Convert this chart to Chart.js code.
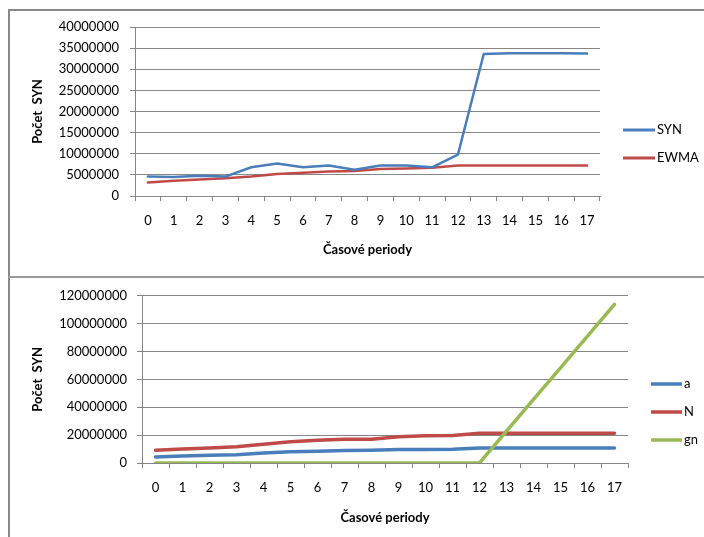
<!DOCTYPE html>
<html><head><meta charset="utf-8">
<script src="https://cdn.jsdelivr.net/npm/chart.js@4.4.0/dist/chart.umd.min.js"></script>
<style>
html,body{margin:0;padding:0;background:#fff;width:704px;height:537px;overflow:hidden;position:relative;}
#c1{position:absolute;left:0;top:0;}
#c2{position:absolute;left:0;top:278px;}
.b{position:absolute;background:#888;}
</style></head><body>
<canvas id="c1" width="704" height="276"></canvas>
<canvas id="c2" width="704" height="259"></canvas>
<div class="b" style="left:8px;top:9px;width:696px;height:2px"></div>
<div class="b" style="left:8px;top:9px;width:2px;height:528px"></div>
<div class="b" style="left:8px;top:276px;width:696px;height:2px;background:#999"></div>
<script>
// ---- data ----
const periods = ['0','1','2','3','4','5','6','7','8','9','10','11','12','13','14','15','16','17'];
const synValues  = [4600000,4500000,4800000,4600000,6800000,7700000,6800000,7200000,6200000,7200000,7200000,6800000,9800000,33600000,33800000,33800000,33800000,33700000];
const ewmaValues = [3200000,3600000,3900000,4200000,4600000,5200000,5500000,5800000,5900000,6400000,6500000,6700000,7200000,7200000,7200000,7200000,7200000,7200000];
const aValues  = [4300000,5100000,5500000,6000000,7200000,8000000,8400000,8900000,9200000,9600000,9600000,9900000,10800000,10800000,10800000,10800000,10800000,10800000];
const nValues  = [9200000,10100000,10800000,11600000,13500000,15200000,16400000,17100000,17100000,18800000,19500000,19800000,21400000,21400000,21400000,21400000,21400000,21400000];
const gnValues = [0,0,0,0,0,0,0,0,0,0,0,0,0,22800000,45600000,68300000,91100000,113900000];
const yTitle = 'Počet  SYN';
const xTitle = 'Časové periody';

const FONT = 'Lato';
const GRID = '#868686';

const sideLegend = {
  id: 'sideLegend',
  afterDraw(chart, args, opts) {
    const ctx = chart.ctx;
    ctx.save();
    chart.data.datasets.forEach((ds, i) => {
      const y = opts.y + i * opts.gap;
      ctx.strokeStyle = ds.borderColor;
      ctx.lineWidth = opts.lw;
      ctx.lineCap = 'butt';
      ctx.beginPath(); ctx.moveTo(opts.x, y); ctx.lineTo(opts.x + opts.len, y); ctx.stroke();
      ctx.fillStyle = '#000';
      ctx.font = '13px ' + FONT;
      ctx.textBaseline = 'middle';
      ctx.textAlign = 'left';
      ctx.fillText(ds.label, opts.x + opts.len + 2, y);
    });
    ctx.restore();
  }
};

function makeScales(o) {
  return {
    x: {
      offset: true,
      grid: { offset: true, drawOnChartArea: false, drawTicks: true, tickLength: 5, color: GRID },
      border: { color: GRID },
      ticks: { color: '#000', font: { family: FONT, size: 13 }, padding: o.xpad, maxRotation: 0, autoSkip: false },
      title: { display: true, text: xTitle, color: '#000', font: { family: FONT, size: 13, weight: 'bold' }, padding: { top: 0, bottom: o.xtp } },
      afterFit(s) { s.height = o.xh; }
    },
    y: {
      min: 0, max: o.max,
      ticks: { stepSize: o.step, color: '#000', font: { family: FONT, size: 13 }, padding: o.ypad, callback: v => String(v) },
      grid: { color: GRID, tickLength: 5 },
      border: { color: GRID },
      title: { display: true, text: yTitle, color: '#000', font: { family: FONT, size: 13, weight: 'bold' }, padding: { top: o.ytp, bottom: 0 } },
      afterFit(s) { s.width = o.yw; }
    }
  };
}

function ds(label, data, color, lw, order) {
  return { label, data, borderColor: color, backgroundColor: color, borderWidth: lw, pointRadius: 0, tension: 0, fill: false, borderJoinStyle: 'round', borderCapStyle: 'round', order };
}

new Chart(document.getElementById('c1'), {
  type: 'line',
  data: { labels: periods, datasets: [ds('SYN', synValues, '#4A7EBB', 2.5, 0), ds('EWMA', ewmaValues, '#BE4B48', 2.5, 0)] },
  options: {
    responsive: false, animation: false,
    layout: { padding: { left: 0, right: 104, top: 27, bottom: 0 } },
    plugins: { legend: { display: false }, tooltip: { enabled: false }, sideLegend: { x: 623, y: 130, gap: 28, len: 32, lw: 3 } },
    scales: makeScales({ max: 40000000, step: 5000000, xpad: 12, xtp: 18, xh: 80, ypad: 11, ytp: 30, yw: 135 })
  },
  plugins: [sideLegend]
});

new Chart(document.getElementById('c2'), {
  type: 'line',
  data: { labels: periods, datasets: [ds('a', aValues, '#4A7EBB', 3.5, 1), ds('N', nValues, '#BE4B48', 3.5, 1), ds('gn', gnValues, '#98B954', 3.5, 0)] },
  options: {
    responsive: false, animation: false,
    layout: { padding: { left: 0, right: 76, top: 17, bottom: 0 } },
    plugins: { legend: { display: false }, tooltip: { enabled: false }, sideLegend: { x: 651, y: 106, gap: 28, len: 31, lw: 3.5 } },
    scales: makeScales({ max: 120000000, step: 20000000, xpad: 12, xtp: 11, xh: 74, ypad: 10, ytp: 30, yw: 142 })
  },
  plugins: [sideLegend]
});
</script>
</body></html>
